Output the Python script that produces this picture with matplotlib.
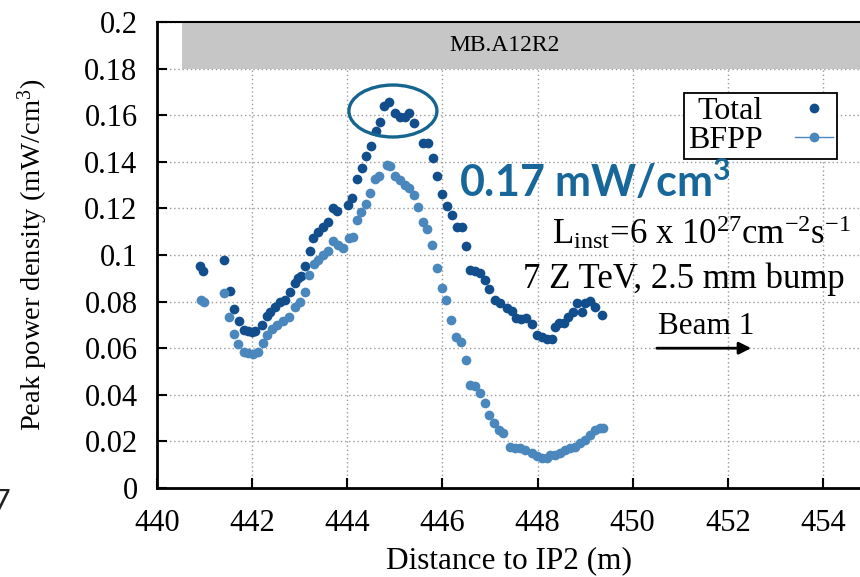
import matplotlib
matplotlib.use("Agg")
import matplotlib.pyplot as plt
from matplotlib.patches import Ellipse, Rectangle
from matplotlib.lines import Line2D
from matplotlib.ticker import FuncFormatter, MultipleLocator

# values
total_x = [440.90, 440.97, 441.41, 441.53, 441.62, 441.72, 441.83, 441.91, 442.00, 442.06,
           442.21, 442.31, 442.38, 442.48, 442.59, 442.69, 442.80, 442.90, 442.96, 443.03,
           443.11, 443.22, 443.28, 443.38, 443.49, 443.59, 443.70, 443.78, 444.02, 444.10,
           444.20, 444.31, 444.39, 444.50, 444.60, 444.69, 444.77, 444.88, 445.00, 445.11,
           445.21, 445.30, 445.40, 445.59, 445.70, 445.80, 445.89, 445.99, 446.10, 446.20,
           446.31, 446.41, 446.50, 446.58, 446.69, 446.79, 446.90, 446.98, 447.11, 447.21,
           447.36, 447.46, 447.55, 447.65, 447.76, 447.88, 447.99, 448.09, 448.20, 448.30,
           448.37, 448.45, 448.56, 448.64, 448.75, 448.83, 448.93, 449.00, 449.10, 449.21,
           449.35]
total_y = [0.0953, 0.0931, 0.0979, 0.0845, 0.0768, 0.0717, 0.0678, 0.0674, 0.0670, 0.0674,
           0.0700, 0.0738, 0.0755, 0.0777, 0.0798, 0.0807, 0.0841, 0.0880, 0.0901, 0.0910,
           0.0953, 0.1017, 0.1073, 0.1099, 0.1120, 0.1142, 0.1202, 0.1189, 0.1215, 0.1245,
           0.1326, 0.1373, 0.1425, 0.1468, 0.1532, 0.1571, 0.1639, 0.1657, 0.1609, 0.1592,
           0.1592, 0.1609, 0.1567, 0.1481, 0.1481, 0.1416, 0.1339, 0.1262, 0.1210, 0.1172,
           0.1120, 0.1120, 0.1039, 0.0936, 0.0931, 0.0923, 0.0893, 0.0854, 0.0807, 0.0794,
           0.0773, 0.0760, 0.0730, 0.0725, 0.0730, 0.0704, 0.0657, 0.0648, 0.0639, 0.0639,
           0.0691, 0.0708, 0.0708, 0.0734, 0.0755, 0.0794, 0.0755, 0.0794, 0.0803, 0.0777,
           0.0742]

bfpp_x = [440.92, 440.99, 441.41, 441.51, 441.62, 441.70, 441.83, 441.91, 442.02, 442.12,
          442.23, 442.31, 442.42, 442.52, 442.65, 442.77, 442.90, 443.01, 443.11, 443.20,
          443.30, 443.38, 443.49, 443.59, 443.70, 443.80, 443.91, 444.04, 444.12, 444.20,
          444.29, 444.39, 444.48, 444.58, 444.67, 444.84, 444.90, 445.00, 445.11, 445.21,
          445.30, 445.40, 445.49, 445.59, 445.68, 445.78, 445.89, 445.99, 446.08, 446.18,
          446.29, 446.39, 446.50, 446.58, 446.69, 446.79, 446.90, 446.98, 447.08, 447.19,
          447.27, 447.42, 447.53, 447.63, 447.74, 447.88, 447.99, 448.09, 448.20, 448.26,
          448.37, 448.47, 448.58, 448.68, 448.79, 448.89, 449.00, 449.10, 449.21, 449.31,
          449.38]
bfpp_y = [0.0807, 0.0798, 0.0837, 0.0734, 0.0661, 0.0618, 0.0584, 0.0579, 0.0575, 0.0584,
          0.0622, 0.0657, 0.0682, 0.0700, 0.0717, 0.0734, 0.0777, 0.0798, 0.0841, 0.0914,
          0.0961, 0.0979, 0.1000, 0.1017, 0.1060, 0.1043, 0.1030, 0.1073, 0.1077, 0.1150,
          0.1185, 0.1219, 0.1266, 0.1326, 0.1339, 0.1386, 0.1382, 0.1339, 0.1322, 0.1300,
          0.1288, 0.1258, 0.1206, 0.1142, 0.1112, 0.1043, 0.0944, 0.0858, 0.0807, 0.0721,
          0.0648, 0.0627, 0.0549, 0.0442, 0.0438, 0.0408, 0.0365, 0.0313, 0.0279, 0.0249,
          0.0236, 0.0176, 0.0172, 0.0172, 0.0163, 0.0150, 0.0137, 0.0129, 0.0129, 0.0142,
          0.0142, 0.0150, 0.0163, 0.0172, 0.0176, 0.0193, 0.0206, 0.0227, 0.0249, 0.0258,
          0.0258]

magnet_label = "MB.A12R2"
magnet_start = 440.53
x_ticks = [440, 442, 444, 446, 448, 450, 452, 454]

dark = "#124e8c"
light = "#4a87bd"
teal = "#17679a"

plt.rcParams["font.family"] = ["Liberation Serif", "DejaVu Serif"]
plt.rcParams["mathtext.fontset"] = "custom"
plt.rcParams["mathtext.rm"] = "Liberation Serif"
plt.rcParams["mathtext.it"] = "Liberation Serif:italic"
plt.rcParams["mathtext.bf"] = "Lato:bold"

fig = plt.figure(figsize=(8.6, 5.77), dpi=100)
ax = fig.add_axes([157 / 860, 1 - 488 / 577, 1 - 157 / 860, (488 - 22) / 577])

ax.set_xlim(440, 454.78)
ax.set_ylim(0, 0.2)
ax.set_xticks(x_ticks)
ax.yaxis.set_major_locator(MultipleLocator(0.02))
ax.yaxis.set_major_formatter(FuncFormatter(lambda v, p: "%g" % round(v, 3)))
ax.grid(True, linestyle=(0, (1, 2)), color="#9a9a9a", linewidth=1.0)
ax.set_axisbelow(True)
ax.tick_params(direction="in", length=7, width=1.5, labelsize=22,
               top=False, right=False)
ax.tick_params(axis="x", pad=15)
ax.tick_params(axis="y", pad=14)
for side in ["left", "bottom"]:
    ax.spines[side].set_linewidth(2)
ax.spines["top"].set_linewidth(1.5)
ax.spines["right"].set_visible(False)

# magnet bar
ax.add_patch(Rectangle((magnet_start, 0.18), 20, 0.02, facecolor="#c6c6c6",
                       edgecolor="none", zorder=2))
ax.text(447.3, 0.19, magnet_label, ha="center", va="center", fontsize=17, zorder=3)

ax.plot(total_x, total_y, "o", color=dark, markersize=7, markeredgewidth=0, zorder=4)
ax.plot(bfpp_x, bfpp_y, "o", color=light, markersize=7, markeredgewidth=0, zorder=4)

ax.add_patch(Ellipse((444.96, 0.1618), 1.85, 0.0223, fill=False, edgecolor="#16658f",
                     linewidth=2.4, zorder=5))

handles = [Line2D([], [], color=dark, marker="o", linestyle="none", markersize=6),
           Line2D([], [], color=light, marker="o", linestyle="-", linewidth=1,
                  markersize=6)]
leg = ax.legend(handles, ["Total", "BFPP"], loc="upper right",
                bbox_to_anchor=(0.967, 0.848), borderaxespad=0, fontsize=23,
                markerfirst=False, fancybox=False, framealpha=1, handlelength=1.2,
                handletextpad=1.0, borderpad=0.12, labelspacing=0.0)
leg.get_frame().set_edgecolor("black")
leg.get_frame().set_linewidth(1.3)

ax.text(449.21, 0.1305, r"$\mathbf{0.17\ mW/cm^3}$", fontsize=31, color=teal,
        ha="center", va="center", zorder=6)
ax.text(454.6, 0.1095, r"L$_{\rm inst}$=6 x 10$^{27}$cm$^{-2}$s$^{-1}$", ha="right",
        va="center", fontsize=25)
ax.text(454.45, 0.0895, "7 Z TeV, 2.5 mm bump", ha="right", va="center", fontsize=25)
ax.text(450.53, 0.0695, "Beam 1", ha="left", va="center", fontsize=22.5)
ax.annotate("", xy=(452.55, 0.060), xytext=(450.45, 0.060),
            arrowprops=dict(arrowstyle="-|>", color="black", lw=2, mutation_scale=18))

ax.set_xlabel("Distance to IP2 (m)", fontsize=22.5, labelpad=6)
ax.set_ylabel("Peak power density (mW/cm$^3$)", fontsize=20.5, labelpad=25)

fig.text(0.012, 0.13, "7", family=["Lato", "DejaVu Sans"], fontsize=22, ha="right",
         va="center", color="#222222")

fig.savefig("out.png", dpi=100)
